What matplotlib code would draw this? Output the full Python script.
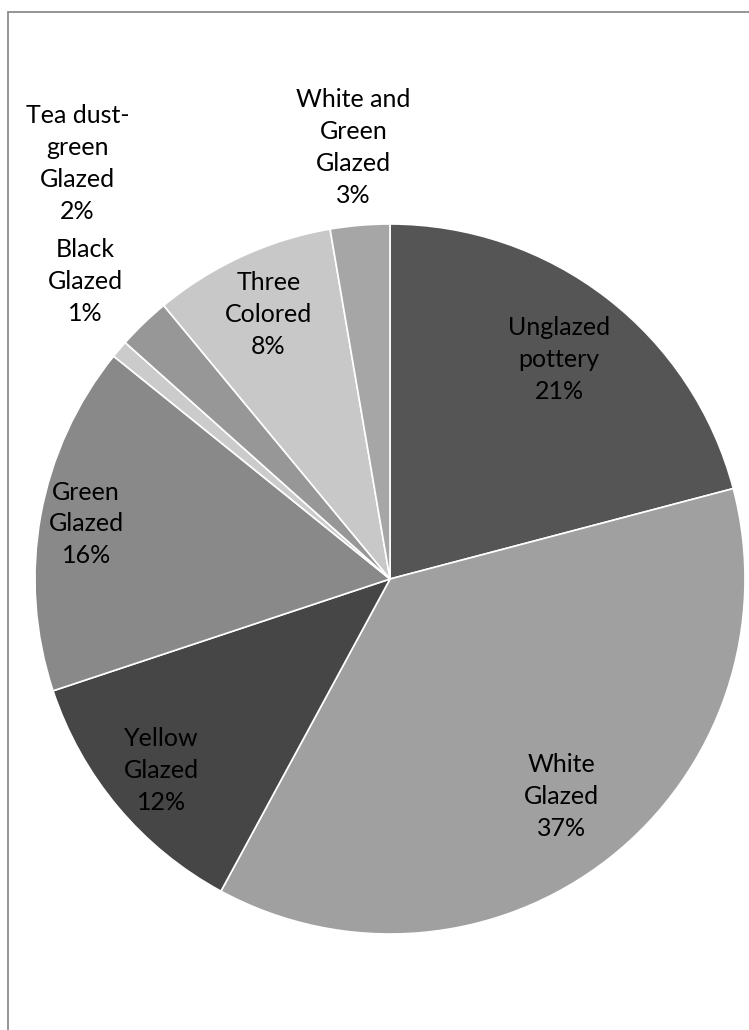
import numpy as np
import matplotlib
matplotlib.use("Agg")
import matplotlib.pyplot as plt
from matplotlib.patches import Rectangle

# ---- data ----
categories = ["Unglazed\npottery", "White\nGlazed", "Yellow\nGlazed", "Green\nGlazed",
              "Black\nGlazed", "Tea dust-\ngreen\nGlazed", "Three\nColored",
              "White and\nGreen\nGlazed"]
values = [20.9, 37.0, 12.0, 15.9, 0.8, 2.4, 8.3, 2.7]
colors = ["#555555", "#a0a0a0", "#464646", "#898989", "#cbcbcb", "#979797",
          "#c8c8c8", "#a6a6a6"]
# label placement (radius as fraction of pie radius, angular nudge in degrees)
label_r = [0.78, 0.78, 0.84, 0.87, 1.20, 1.465, 0.82, 1.22]
label_nudge = [0, 0, 0, 0, -4, -7, 0, 0]

W, H = 749, 1030
fig = plt.figure(figsize=(W / 100, H / 100), dpi=100)
ax = fig.add_axes([0, 0, 1, 1])

cx, cy, R = 390, H - 579, 355
wedges, _ = ax.pie(values, colors=colors, startangle=90, counterclock=False,
                   center=(cx, cy), radius=R,
                   wedgeprops=dict(edgecolor="white", linewidth=1.2))

total = sum(values)
for w, cat, v, rf, nd in zip(wedges, categories, values, label_r, label_nudge):
    mid = np.deg2rad((w.theta1 + w.theta2) / 2 + nd)
    x = cx + rf * R * np.cos(mid)
    y = cy + rf * R * np.sin(mid)
    pct = round(v / total * 100)
    ax.text(x, y, f"{cat}\n{pct}%", ha="center", va="center",
            fontsize=18, family=["Lato", "DejaVu Sans"], color="black",
            linespacing=1.47)

# chart frame (clipped at right and bottom like the original)
ax.add_patch(Rectangle((8, -20), 800, H - 12 + 20, fill=False,
                       edgecolor="#8c8c8c", linewidth=1.3, clip_on=True))

ax.set_xlim(0, W)
ax.set_ylim(0, H)
ax.set_aspect("equal")
ax.axis("off")

fig.savefig("out.png", dpi=100, facecolor="white")
